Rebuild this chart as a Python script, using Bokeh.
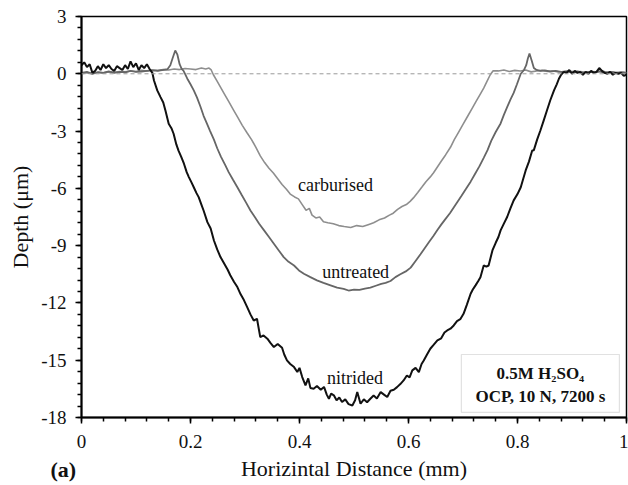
from bokeh.plotting import figure
from bokeh.models import (SingleIntervalTicker, CustomJSTickFormatter, Label,
                          BoxAnnotation, Span, Title)
from bokeh.embed import file_html
from bokeh.resources import INLINE

# ---------------- data ----------------
nitrided_x = [0.000, 0.005, 0.010, 0.015, 0.020, 0.025, 0.030, 0.035, 0.040, 0.045,
              0.050, 0.055, 0.060, 0.065, 0.070, 0.075, 0.080, 0.085, 0.090, 0.095,
              0.100, 0.105, 0.110, 0.115, 0.120, 0.125,
              0.130, 0.133, 0.139, 0.145, 0.150, 0.154, 0.160, 0.165, 0.169, 0.174,
              0.178, 0.183, 0.188, 0.193, 0.197, 0.202, 0.206, 0.211, 0.215, 0.220,
              0.224, 0.231, 0.237, 0.243, 0.249, 0.255, 0.262, 0.268, 0.273, 0.280,
              0.286, 0.292, 0.298, 0.304, 0.310, 0.316, 0.322, 0.328, 0.334, 0.341,
              0.347, 0.353, 0.360, 0.368, 0.372, 0.377, 0.383, 0.390, 0.396, 0.400,
              0.405, 0.411, 0.416, 0.420, 0.426, 0.432, 0.439, 0.445, 0.450, 0.454,
              0.458, 0.463, 0.468, 0.473, 0.478, 0.484, 0.490, 0.497, 0.502, 0.506,
              0.512, 0.518, 0.524, 0.530, 0.536, 0.542, 0.549, 0.555, 0.561, 0.567,
              0.573, 0.579, 0.585, 0.591, 0.597, 0.602, 0.607, 0.613, 0.619, 0.624,
              0.628, 0.634, 0.640, 0.646, 0.653, 0.660, 0.666, 0.671, 0.677, 0.683,
              0.689, 0.695, 0.701, 0.707, 0.714, 0.718, 0.723, 0.728, 0.732, 0.738,
              0.743, 0.747, 0.754, 0.760, 0.765, 0.769, 0.775, 0.781, 0.787, 0.793,
              0.800, 0.806, 0.810, 0.815, 0.821, 0.827, 0.830, 0.836, 0.842, 0.848,
              0.854, 0.860, 0.867, 0.872, 0.876, 0.880,
              0.885, 0.890, 0.895, 0.900, 0.905, 0.910, 0.915, 0.920, 0.925, 0.930,
              0.935, 0.940, 0.945, 0.950, 0.955, 0.960, 0.965, 0.970, 0.975, 0.980,
              0.985, 0.990, 0.995, 1.000]
nitrided_y = [0.45, 0.60, 0.35, 0.50, 0.05, 0.15, 0.40, 0.20, 0.50, 0.30,
              0.45, 0.25, 0.15, 0.40, 0.30, 0.20, 0.45, 0.25, 0.65, 0.35,
              0.55, 0.20, 0.45, 0.30, 0.50, 0.25,
              0.05, -0.35, -0.87, -1.22, -1.50, -1.92, -2.62, -2.85, -3.14, -3.70,
              -4.02, -4.35, -4.71, -5.15, -5.41, -5.70, -5.94, -6.25, -6.46, -6.85,
              -7.16, -7.77, -8.10, -8.73, -9.20, -9.60, -9.95, -10.25, -10.55, -10.90,
              -11.17, -11.55, -11.85, -12.22, -12.60, -12.92, -12.83, -13.79, -13.70, -13.87,
              -14.10, -14.31, -14.15, -14.35, -14.70, -15.01, -15.20, -15.36, -15.62, -15.40,
              -15.88, -16.32, -15.95, -16.45, -16.49, -16.35, -16.55, -16.40, -16.80, -17.02,
              -16.75, -16.84, -17.10, -16.95, -17.19, -17.05, -17.30, -17.37, -17.10, -16.67,
              -17.28, -17.05, -17.20, -17.02, -16.85, -17.00, -16.67, -16.80, -16.93, -16.60,
              -16.55, -16.41, -16.25, -16.06, -15.80, -15.90, -15.53, -15.40, -15.62, -15.20,
              -15.01, -14.70, -14.40, -14.20, -13.96, -13.85, -13.55, -13.44, -13.35, -13.18,
              -12.95, -12.85, -12.57, -12.10, -11.52, -11.30, -11.08, -10.85, -10.65, -10.04,
              -10.10, -10.04, -9.25, -8.85, -8.55, -8.20, -7.85, -7.50, -7.05, -6.63,
              -6.30, -5.94, -5.55, -5.06, -4.60, -4.02, -4.00, -3.45, -2.97, -2.45,
              -1.92, -1.40, -0.87, -0.55, -0.26, -0.05,
              0.10, 0.05, 0.20, 0.00, 0.15, 0.05, 0.10, -0.05, 0.10, 0.00,
              0.15, 0.05, 0.10, 0.30, 0.15, 0.05, 0.00, 0.10, -0.05, 0.05,
              0.00, 0.05, -0.10, -0.05]

untreated_x = [0.000, 0.010, 0.020, 0.030, 0.040, 0.050, 0.060, 0.070, 0.080, 0.090,
               0.100, 0.110, 0.120, 0.130, 0.140, 0.150, 0.158, 0.163, 0.167, 0.172,
               0.176, 0.180, 0.184, 0.187,
               0.190, 0.195, 0.200, 0.206, 0.212, 0.218, 0.224, 0.230, 0.236, 0.243,
               0.249, 0.256, 0.264, 0.270, 0.278, 0.286, 0.294, 0.302, 0.310, 0.318,
               0.326, 0.335, 0.344, 0.353, 0.362, 0.371, 0.380, 0.390, 0.399, 0.408,
               0.420, 0.432, 0.444, 0.457, 0.469, 0.481, 0.490, 0.500, 0.510, 0.520,
               0.530, 0.540, 0.550, 0.558, 0.567, 0.576, 0.585, 0.595, 0.604, 0.613,
               0.622, 0.630, 0.638, 0.646, 0.653, 0.660, 0.668, 0.676, 0.683, 0.690,
               0.697, 0.705, 0.714, 0.722, 0.730, 0.738, 0.745, 0.752, 0.760, 0.769,
               0.775, 0.781, 0.787, 0.793, 0.799, 0.806, 0.812, 0.816, 0.819, 0.822,
               0.826, 0.830, 0.835, 0.842, 0.850, 0.860, 0.870, 0.880, 0.890, 0.900,
               0.910, 0.920, 0.930, 0.940, 0.950, 0.960, 0.970, 0.980, 0.990, 1.000]
untreated_y = [0.05, 0.10, 0.00, 0.08, 0.05, 0.12, 0.05, 0.10, 0.08, 0.15,
               0.10, 0.12, 0.15, 0.18, 0.15, 0.20, 0.25, 0.45, 0.80, 1.22,
               1.00, 0.50, 0.25, 0.17,
               0.00, -0.30, -0.55, -0.87, -1.25, -1.70, -2.20, -2.60, -3.00, -3.45,
               -3.90, -4.35, -4.80, -5.15, -5.55, -5.94, -6.35, -6.75, -7.16, -7.50,
               -7.85, -8.20, -8.55, -8.90, -9.25, -9.60, -9.85, -10.04, -10.30, -10.47,
               -10.65, -10.82, -10.95, -11.08, -11.20, -11.26, -11.35, -11.30, -11.32, -11.25,
               -11.20, -11.10, -11.00, -10.95, -10.85, -10.65, -10.50, -10.35, -10.15, -9.80,
               -9.45, -9.12, -8.80, -8.48, -8.18, -7.90, -7.60, -7.30, -7.00, -6.70,
               -6.40, -6.05, -5.65, -5.25, -4.85, -4.40, -4.00, -3.50, -3.05, -2.60,
               -2.15, -1.75, -1.35, -1.00, -0.55, 0.00, 0.20, 0.45, 0.80, 1.06,
               0.70, 0.30, 0.20, 0.15, 0.18, 0.12, 0.15, 0.10, 0.12, 0.08,
               0.12, 0.05, 0.10, 0.08, 0.12, 0.05, 0.10, 0.05, 0.08, 0.05]

carburised_x = [0.000, 0.010, 0.020, 0.030, 0.040, 0.050, 0.060, 0.070, 0.080, 0.090,
                0.100, 0.110, 0.120, 0.130, 0.140, 0.150, 0.160, 0.170, 0.180, 0.190,
                0.200, 0.210, 0.220, 0.228, 0.234, 0.238,
                0.242, 0.248, 0.255, 0.262, 0.270, 0.279, 0.287, 0.295, 0.304, 0.312,
                0.320, 0.328, 0.336, 0.344, 0.352, 0.360, 0.368, 0.376, 0.383, 0.391,
                0.398, 0.405, 0.412, 0.418, 0.423, 0.430, 0.437, 0.444, 0.452, 0.462,
                0.472, 0.482, 0.494, 0.505, 0.516, 0.526, 0.536, 0.546, 0.556, 0.565,
                0.572, 0.580, 0.588, 0.596, 0.603, 0.609, 0.617, 0.625, 0.632, 0.640,
                0.646, 0.653, 0.660, 0.668, 0.677, 0.684, 0.692, 0.700, 0.708, 0.716,
                0.724, 0.732, 0.738, 0.744, 0.750, 0.755,
                0.765, 0.775, 0.785, 0.795, 0.805, 0.815, 0.825, 0.835, 0.845, 0.855,
                0.865, 0.875, 0.885, 0.895, 0.905, 0.915, 0.925, 0.935, 0.945, 0.955,
                0.965, 0.975, 0.985, 0.995, 1.000]
carburised_y = [0.00, 0.05, 0.02, 0.08, 0.05, 0.10, 0.08, 0.12, 0.10, 0.15,
                0.12, 0.18, 0.15, 0.20, 0.18, 0.22, 0.20, 0.25, 0.22, 0.28,
                0.25, 0.22, 0.30, 0.25, 0.30, 0.20,
                -0.05, -0.35, -0.70, -1.05, -1.45, -1.90, -2.30, -2.70, -3.10, -3.45,
                -3.85, -4.30, -4.65, -4.95, -5.20, -5.50, -5.80, -6.05, -6.30, -6.45,
                -6.55, -6.85, -7.15, -7.05, -7.40, -7.55, -7.50, -7.75, -7.80, -7.85,
                -7.95, -8.00, -8.05, -7.95, -8.00, -7.90, -7.80, -7.65, -7.55, -7.40,
                -7.30, -7.10, -6.95, -6.85, -6.68, -6.50, -6.22, -5.92, -5.65, -5.40,
                -5.18, -4.88, -4.58, -4.25, -3.85, -3.45, -3.05, -2.65, -2.25, -1.85,
                -1.45, -1.05, -0.75, -0.40, -0.05, 0.15,
                0.15, 0.20, 0.12, 0.18, 0.15, 0.20, 0.10, 0.15, 0.18, 0.12,
                0.15, 0.10, 0.12, 0.15, 0.10, 0.12, 0.08, 0.12, 0.10, 0.15,
                0.08, 0.10, 0.05, 0.08, 0.05]

series_names = ["carburised", "untreated", "nitrided"]
x_title = "Horizintal Distance (mm)"
y_title = "Depth (\u03bcm)"
box_lines = ["0.5M H\u2082SO\u2084", "OCP, 10 N, 7200 s"]
panel_tag = "(a)"

FONT = "Liberation Serif"

p = figure(width=628, height=485, x_range=(0, 1), y_range=(-18, 3),
           output_backend="svg", toolbar_location=None,
           min_border_left=81, min_border_right=2, min_border_top=16,
           min_border_bottom=68, background_fill_color="white",
           border_fill_color="white")
p.grid.visible = False
p.outline_line_color = "black"
p.outline_line_width = 1.5

p.xaxis.ticker = SingleIntervalTicker(interval=0.2, num_minor_ticks=5)
p.yaxis.ticker = SingleIntervalTicker(interval=3, num_minor_ticks=5)
p.xaxis.formatter = CustomJSTickFormatter(code="return Number(tick.toFixed(2)).toString();")
p.yaxis.formatter = CustomJSTickFormatter(code="return tick.toFixed(0);")

for ax in (p.xaxis[0], p.yaxis[0]):
    ax.axis_line_color = "black"
    ax.axis_line_width = 2
    ax.major_tick_line_color = "black"
    ax.minor_tick_line_color = "black"
    ax.major_tick_line_width = 1.5
    ax.minor_tick_line_width = 1.5
    ax.major_tick_in = 0
    ax.major_tick_out = 6
    ax.minor_tick_in = 0
    ax.minor_tick_out = 4
    ax.major_label_text_font = FONT
    ax.major_label_text_font_size = "19px"
    ax.major_label_text_color = "#111111"
    ax.axis_label_text_font = FONT
    ax.axis_label_text_font_size = "22px"
    ax.axis_label_text_font_style = "normal"
    ax.axis_label_text_color = "#111111"

p.xaxis.major_label_standoff = 11
p.yaxis.major_label_standoff = 9
p.xaxis.axis_label = x_title
p.yaxis.axis_label = y_title
p.xaxis.axis_label_standoff = 5
p.yaxis.axis_label_standoff = 5

# dashed zero reference
p.add_layout(Span(location=0, dimension="width", line_color="#9a9a9a",
                  line_dash="4 3", line_width=1))

p.line(carburised_x, carburised_y, line_color="#8e8e8e", line_width=1.6)
p.line(untreated_x, untreated_y, line_color="#666666", line_width=1.8)
p.line(nitrided_x, nitrided_y, line_color="#111111", line_width=2.0)

# curve labels
for txt, lx, ly in [(series_names[0], 0.466, -5.85),
                    (series_names[1], 0.503, -10.4),
                    (series_names[2], 0.502, -15.95)]:
    p.add_layout(Label(x=lx, y=ly, text=txt, text_font=FONT,
                       text_font_size="18px", text_align="center",
                       text_baseline="middle", text_color="#111111"))

# condition box
p.add_layout(BoxAnnotation(left=0.697, right=0.987, top=-14.70, bottom=-17.73,
                           fill_color="white", fill_alpha=1.0,
                           line_color="#9a9a9a", line_width=1.2))
p.add_layout(Label(x=0.842, y=-15.69, text=box_lines[0], text_font=FONT,
                   text_font_size="17px", text_font_style="bold",
                   text_align="center", text_baseline="middle", text_color="#111111"))
p.add_layout(Label(x=0.842, y=-16.89, text=box_lines[1], text_font=FONT,
                   text_font_size="17px", text_font_style="bold",
                   text_align="center", text_baseline="middle", text_color="#111111"))

# panel tag as a bottom title pulled up next to the axis title
tag = Title(text=panel_tag, align="left", offset=-31, standoff=-54,
            vertical_align="top",
            text_font=FONT, text_font_size="22px", text_font_style="bold",
            text_color="#111111")
p.add_layout(tag, "below")

open("out.html", "w").write(file_html(p, INLINE))
